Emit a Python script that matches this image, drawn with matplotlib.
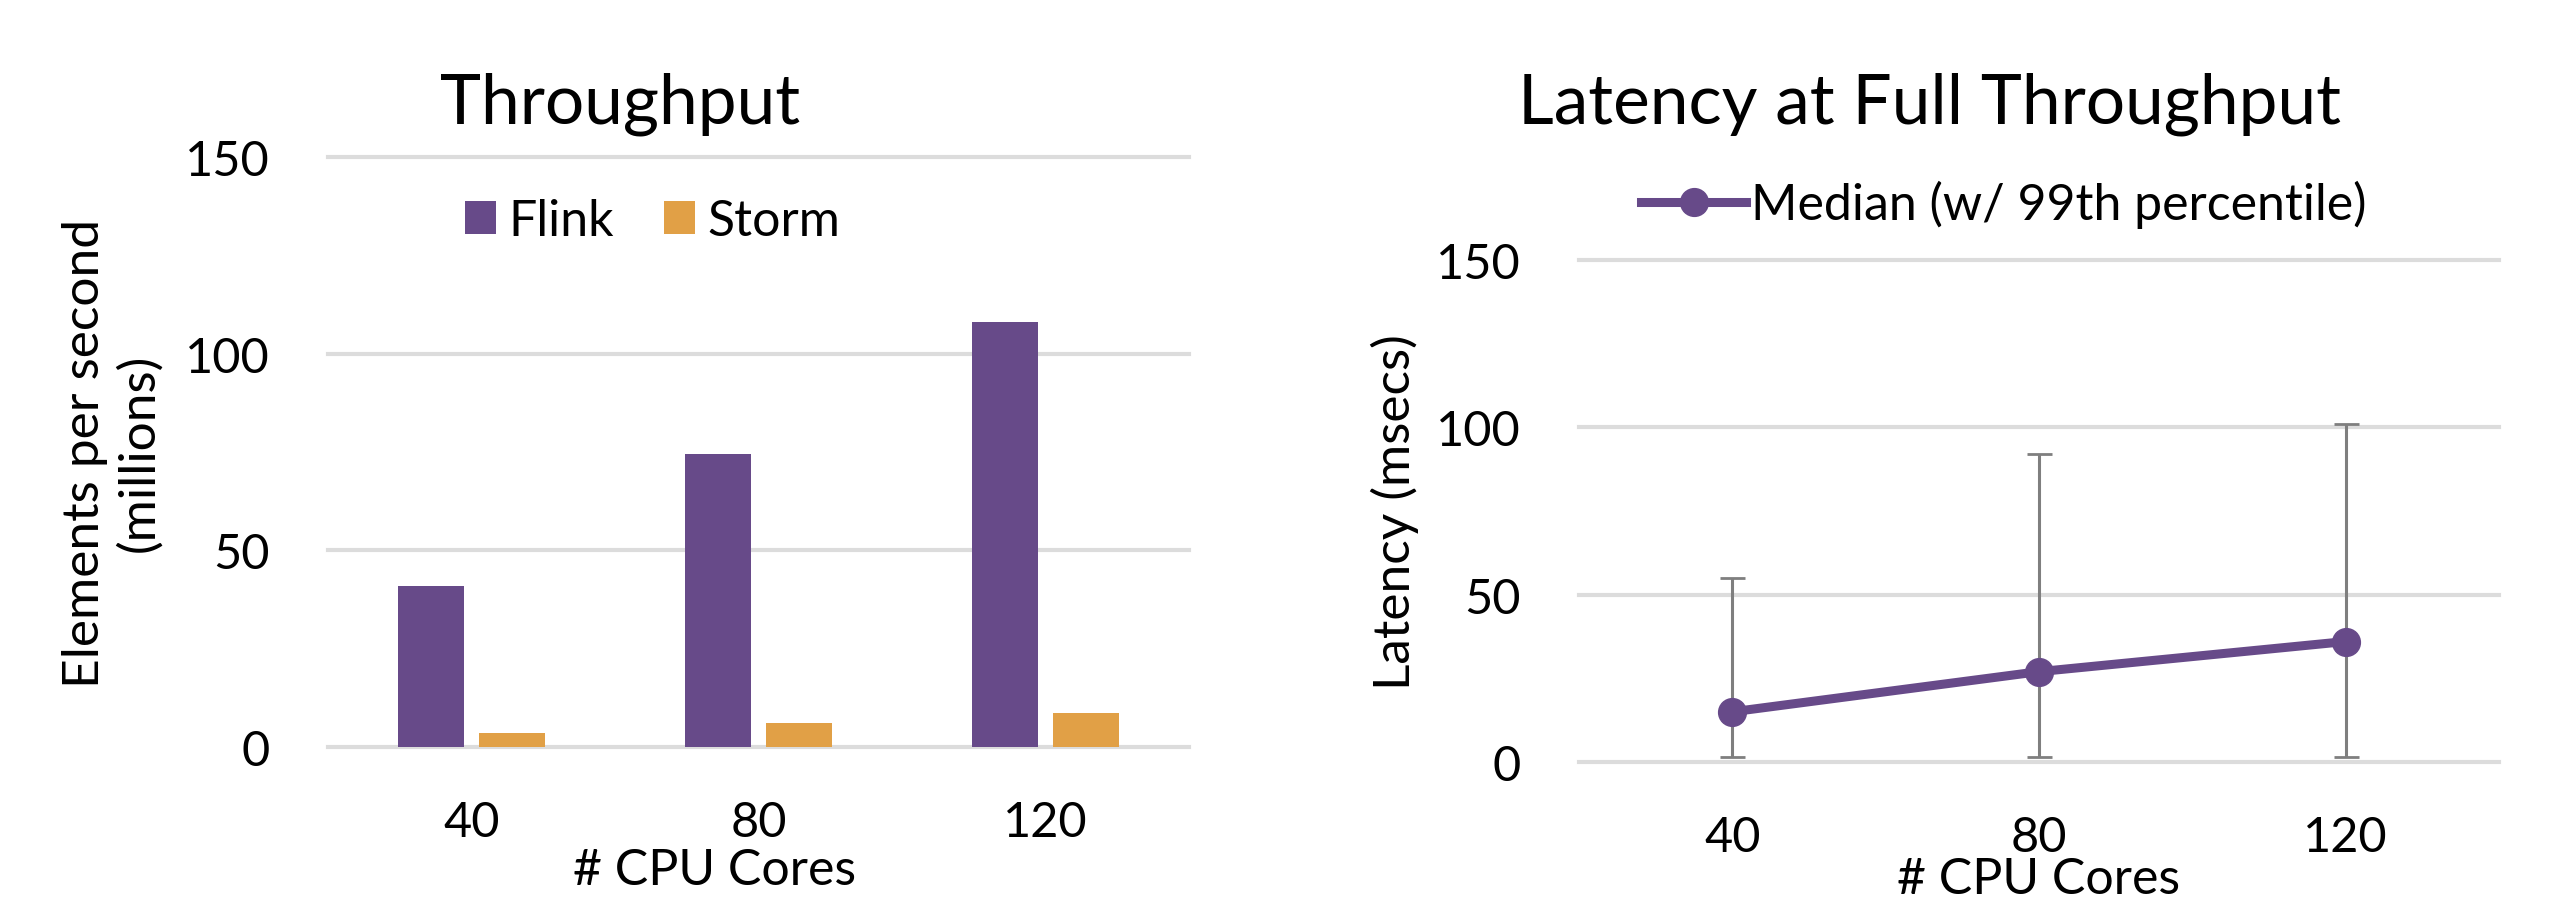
import numpy as np
import matplotlib.pyplot as plt
from matplotlib.lines import Line2D

plt.rcParams['font.family'] = ['Lato', 'DejaVu Sans']

# throughput data
cores = ['40', '80', '120']
flink = [41, 74.5, 108]
storm = [3.5, 6, 8.7]

# latency data
median = [15, 27, 36]
p99 = [55, 92, 101]
low = [1.5, 1.5, 1.5]

purple = '#674a89'
orange = '#e1a046'
grid_c = '#dcdcdc'
W, H = 2560, 912

fig = plt.figure(figsize=(25.6, 9.12), dpi=100)

def style(ax):
    for s in ax.spines.values():
        s.set_visible(False)
    ax.set_ylim(0, 150)
    ax.set_yticks([0, 50, 100, 150])
    ax.set_xlim(-0.5, 2.5)
    ax.set_xticks(range(3))
    ax.set_xticklabels(cores)
    ax.tick_params(axis='y', length=0, pad=42, labelsize=35)
    ax.tick_params(axis='x', length=0, pad=38, labelsize=35)
    ax.grid(axis='y', color=grid_c, linewidth=3)
    ax.set_axisbelow(True)
    for gl in ax.get_ygridlines():
        gl.set_clip_on(False)

# Throughput
ax1 = fig.add_axes([328/W, 1-748/H, 861/W, 590/H])
style(ax1)
x = np.arange(3)
ax1.bar(x - 0.14, flink, width=0.23, color=purple, label='Flink')
ax1.bar(x + 0.14, storm, width=0.23, color=orange, label='Storm')
ax1.set_ylabel('Elements per second\n(millions)', fontsize=37, linespacing=1.2,
               va='center')
ax1.yaxis.set_label_coords((112-328)/861, 0.5)
ax1.set_xlabel('# CPU Cores', fontsize=36, va='center')
ax1.xaxis.set_label_coords((715-328)/861, ((H-871)/H - (1-748/H))/(590/H))
ax1.legend(loc='center left', bbox_to_anchor=(465/W, 1-222/H),
           bbox_transform=fig.transFigure, ncol=2, frameon=False, fontsize=36,
           handlelength=0.62, handleheight=0.62, handletextpad=0.25,
           columnspacing=1.0, borderpad=0, borderaxespad=0)
fig.text(620/W, 1-123/H, 'Throughput', fontsize=50, ha='center', va='baseline')

# Latency
ax2 = fig.add_axes([1579/W, 1-763/H, 920/W, 502/H])
style(ax2)
err = [np.array(median) - np.array(low), np.array(p99) - np.array(median)]
ax2.errorbar(x, median, yerr=err, color=purple, linewidth=6.5, marker='o',
             markersize=20, ecolor='#7f7f7f', elinewidth=2.2, capsize=9,
             capthick=2, zorder=3, label='Median (w/ 99th percentile)')
ax2.set_ylabel('Latency (msecs)', fontsize=37, va='center')
ax2.yaxis.set_label_coords((1395-1579)/920, 0.5)
ax2.set_xlabel('# CPU Cores', fontsize=36, va='center')
ax2.xaxis.set_label_coords(0.5, ((H-880)/H - (1-763/H))/(502/H))
h = Line2D([], [], color=purple, linewidth=6.5, marker='o', markersize=20)
ax2.legend([h], ['Median (w/ 99th percentile)'], loc='center left',
           bbox_to_anchor=(1641/W, 1-205/H), bbox_transform=fig.transFigure,
           frameon=False, fontsize=36, handlelength=2.1, handletextpad=0.1,
           borderpad=0, borderaxespad=0)
fig.text(1930/W, 1-123/H, 'Latency at Full Throughput', fontsize=50,
         ha='center', va='baseline')

fig.savefig('out.png', dpi=100, facecolor='white')
